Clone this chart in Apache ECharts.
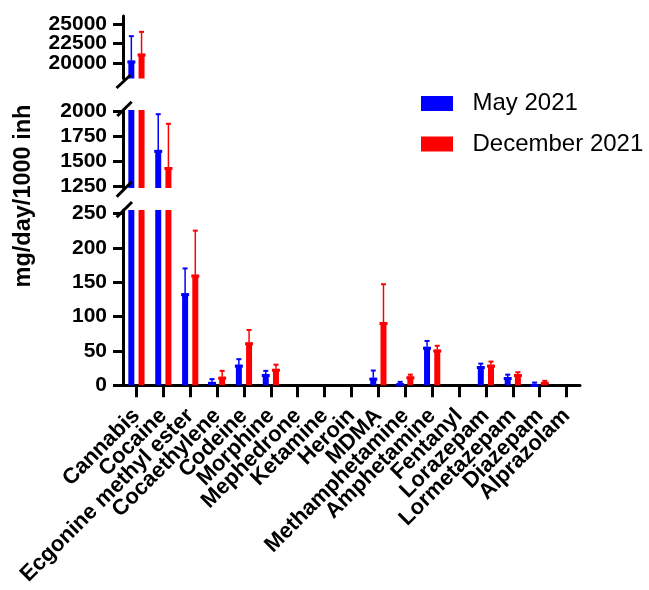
<!DOCTYPE html>
<html>
<head>
<meta charset="utf-8">
<script src="https://cdn.jsdelivr.net/npm/echarts@6/dist/echarts.min.js"></script>
<style>
html,body{margin:0;padding:0;background:#fff;}
#chart{width:649px;height:590px;}
</style>
</head>
<body>
<div id="chart"></div>
<script>
const categories = ['Cannabis','Cocaine','Ecgonine methyl ester','Cocaethylene','Codeine','Morphine','Mephedrone','Ketamine','Heroin','MDMA','Methamphetamine','Amphetamine','Fentanyl','Lorazepam','Lormetazepam','Diazepam','Alprazolam'];
const mayValues = [20300, 1616, 134, 5, 30, 16.5, 0, 0, 0, 11, 3, 56, 0, 28, 12, 2, 0];
const maySD     = [3120, 357, 36, 4, 8, 4.5, 0, 0, 0, 10.5, 2, 8.5, 0, 3.5, 3.5, 2, 0];
const decValues = [21190, 1445, 161, 12.5, 62.5, 24, 0, 0, 0, 92, 13, 52, 0, 30, 16.5, 5, 0];
const decSD     = [2780, 432, 64, 8.5, 18, 6, 0, 0, 0, 55, 2.5, 5.5, 0, 4.5, 2.5, 1.5, 0];
const topTicks = [20000, 22500, 25000];
const midTicks = [1250, 1500, 1750, 2000];
const lowTicks = [0, 50, 100, 150, 200, 250];

const FONT = '"Liberation Sans", Arial, sans-serif';
const BLUE = '#0000ff', RED = '#ff0000';
const OFFSET = 5.1;

const grids = [
  {left:123, width:457, top:16, height:62.5},
  {left:123, width:457, top:110, height:78},
  {left:123, width:457, top:210, height:175.3}
];
const yRanges = [
  {min:18000, max:26000, ticks:topTicks},
  {min:1235, max:2015, ticks:midTicks},
  {min:0, max:255, ticks:lowTicks}
];

function errRender(offset, color){
  return function(params, api){
    const i = api.value(0), m = api.value(1), sd = api.value(2);
    if (!sd) return;
    const cs = params.coordSys;
    const p1 = api.coord([i, m]), p2 = api.coord([i, m + sd]);
    const x = p1[0] + offset;
    const top = cs.y, bot = cs.y + cs.height;
    const clamp = v => Math.max(top, Math.min(bot, v));
    const a = clamp(p1[1]), b = clamp(p2[1]);
    const children = [];
    if (a - b > 0.5) children.push({type:'line', shape:{x1:x,y1:a,x2:x,y2:b}, style:{stroke:color, lineWidth:1.5}});
    if (p2[1] >= top && p2[1] <= bot) children.push({type:'line', shape:{x1:x-2.5,y1:p2[1],x2:x+2.5,y2:p2[1]}, style:{stroke:color, lineWidth:2}});
    if (p1[1] >= top && p1[1] <= bot) children.push({type:'line', shape:{x1:x-4,y1:p1[1]+1.5,x2:x+4,y2:p1[1]+1.5}, style:{stroke:color, lineWidth:3}});
    return {type:'group', children};
  };
}

const xAxes = [], yAxes = [], series = [];
grids.forEach((g, gi) => {
  const isBottom = gi === 2;
  xAxes.push({
    type:'category', gridIndex:gi, data:categories, boundaryGap:true,
    show:isBottom,
    axisLine:{show:true, lineStyle:{color:'#000', width:3}},
    axisTick:{show:true, alignWithLabel:true, length:12, lineStyle:{color:'#000', width:3}},
    axisLabel:{show:true, interval:0, rotate:45, margin:27, color:'#000', fontSize:22, fontWeight:'bold', fontFamily:FONT},
    splitLine:{show:false}
  });
  const r = yRanges[gi];
  // one value axis per tick so that no tick label is dropped by overlap checks
  const firstIdx = yAxes.length;
  r.ticks.forEach((t, ti) => {
    yAxes.push({
      type:'value', gridIndex:gi, min:r.min, max:r.max, position:'left', offset:0,
      axisLine:{show:ti === 0, lineStyle:{color:'#000', width:3}},
      axisTick:{show:true, length:10, lineStyle:{color:'#000', width:3}, customValues:[t]},
      axisLabel:{show:true, margin:16, color:'#000', fontSize:21, fontWeight:'bold', fontFamily:FONT,
        customValues:[t], formatter:v => String(v)},
      splitLine:{show:false}
    });
  });
  series.push({
    type:'bar', name:'May 2021', xAxisIndex:gi, yAxisIndex:firstIdx, data:mayValues,
    barWidth:6, barGap:'70%', itemStyle:{color:BLUE}, clip:true, silent:true
  });
  series.push({
    type:'bar', name:'December 2021', xAxisIndex:gi, yAxisIndex:firstIdx, data:decValues,
    barWidth:6, barGap:'70%', itemStyle:{color:RED}, clip:true, silent:true
  });
  series.push({
    type:'custom', name:'mayErr'+gi, xAxisIndex:gi, yAxisIndex:firstIdx,
    data:categories.map((c, i) => [i, mayValues[i], maySD[i]]),
    encode:{x:0, y:1}, renderItem:errRender(-OFFSET, BLUE), z:3, silent:true
  });
  series.push({
    type:'custom', name:'decErr'+gi, xAxisIndex:gi, yAxisIndex:firstIdx,
    data:categories.map((c, i) => [i, decValues[i], decSD[i]]),
    encode:{x:0, y:1}, renderItem:errRender(OFFSET, RED), z:3, silent:true
  });
});

const slashes = [
  [116.5, 88, 130.5, 75],
  [117.3, 116, 131.7, 101.7],
  [116.7, 196.7, 131.7, 181.7],
  [116.7, 217.3, 132, 202]
];

const chart = echarts.init(document.getElementById('chart'), null, {renderer:'canvas'});
chart.setOption({
  animation:false,
  backgroundColor:'#fff',
  grid:grids,
  xAxis:xAxes,
  yAxis:yAxes,
  legend:{
    data:['May 2021','December 2021'],
    orient:'vertical', left:416, top:86,
    itemWidth:32, itemHeight:15, itemGap:15.5,
    icon:'rect',
    textStyle:{fontSize:24, color:'#000', fontFamily:FONT, padding:[0,0,0,14.5], lineHeight:25}
  },
  graphic:[
    {type:'text', x:24, y:196, rotation:Math.PI/2,
     style:{text:'mg/day/1000 inh', fill:'#000', font:'bold 23.5px ' + FONT, align:'center', verticalAlign:'middle'}},
    ...slashes.map(s => ({type:'line', shape:{x1:s[0], y1:s[1], x2:s[2], y2:s[3]}, style:{stroke:'#000', lineWidth:3}, z:10}))
  ],
  series:series
});
</script>
</body>
</html>
